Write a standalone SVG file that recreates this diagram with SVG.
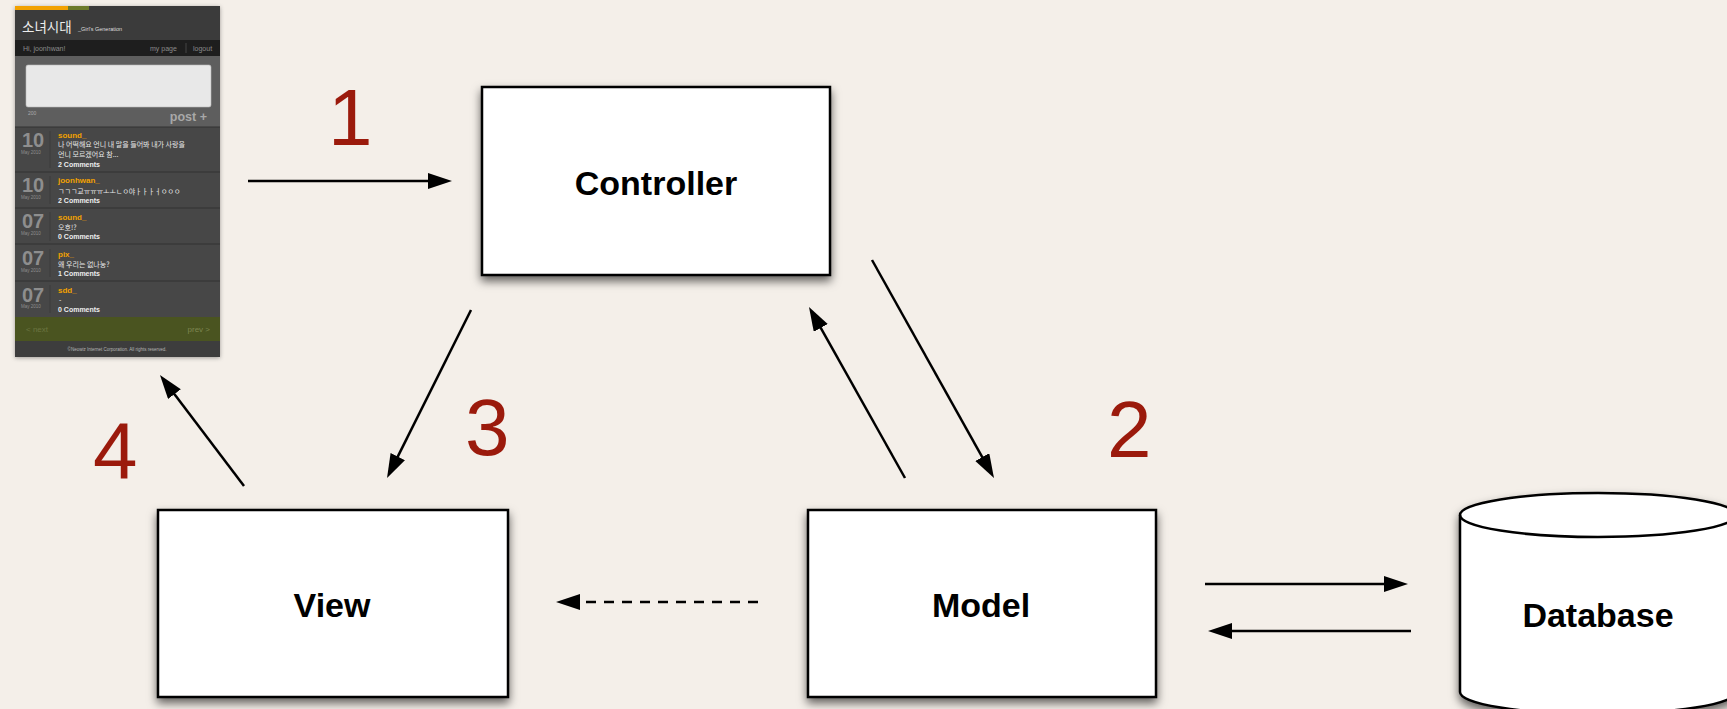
<svg xmlns="http://www.w3.org/2000/svg" width="1727" height="709" viewBox="0 0 1727 709">
  <defs>
    <filter id="shadow" x="-10%" y="-10%" width="120%" height="130%">
      <feDropShadow dx="0" dy="5" stdDeviation="5" flood-color="#000" flood-opacity="0.6"/>
    </filter>
    <filter id="pshadow" x="-10%" y="-10%" width="120%" height="120%">
      <feDropShadow dx="0" dy="1" stdDeviation="2" flood-color="#000" flood-opacity="0.35"/>
    </filter>
    <marker id="arrow" markerUnits="userSpaceOnUse" markerWidth="26" markerHeight="18" refX="14" refY="8" orient="auto">
      <path d="M0,0 L24,8 L0,16 z" fill="#000"/>
    </marker>
    <style>
      .box { fill: #fff; stroke: #000; stroke-width: 2.5; }
      .label { font-family: "Liberation Sans", Arial, sans-serif; font-weight: bold; font-size: 34px; fill: #000; text-anchor: middle; }
      .num { font-family: "Liberation Sans", Arial, sans-serif; font-size: 80px; fill: #9b1a0c; }
      .conn { stroke: #000; stroke-width: 2.5; fill: none; marker-end: url(#arrow); }
      .dash { stroke-dasharray: 10 8; }
      .ph { font-family: "Liberation Sans", "Noto Sans CJK KR", Arial, sans-serif; }
      .kr { font-family: "Noto Sans CJK KR", "Liberation Sans", sans-serif; }
      .user { font-size: 8px; font-weight: bold; fill: #f2a100; }
      .msg { font-size: 7px; fill: #e6e6e6; }
      .cm { font-size: 7px; font-weight: bold; fill: #eeeeee; }
      .day { font-size: 20px; font-weight: bold; fill: #8e8e8e; }
      .mon { font-size: 4.5px; fill: #8e8e8e; }
      .sep { stroke: #333; stroke-width: 1; }
    </style>
  </defs>

  <rect x="0" y="0" width="1727" height="709" fill="#f4efe9"/>

  <!-- Phone screenshot -->
  <g id="screenshot" class="ph">
    <rect x="15" y="6" width="205" height="351" fill="#474747" filter="url(#pshadow)"/>
    <rect x="15" y="6" width="53" height="4" fill="#f2a100"/>
    <rect x="68" y="6" width="21" height="4" fill="#6b7a2a"/>
    <rect x="89" y="6" width="131" height="4" fill="#3a3a3a"/>
    <rect x="15" y="10" width="205" height="30" fill="#3b3b3b"/>
    <text x="22" y="32" class="kr" font-size="13.5" fill="#ececec">소녀시대</text>
    <text x="78" y="31" font-size="5.5" fill="#dddddd">_Girl's Generation</text>
    <rect x="15" y="40" width="205" height="16" fill="#1e1e1e"/>
    <text x="23" y="51" font-size="7" fill="#8a8a8a">Hi, joonhwan!</text>
    <text x="150" y="51" font-size="7" fill="#8a8a8a">my page</text>
    <line x1="186" y1="43" x2="186" y2="53" stroke="#444" stroke-width="1"/>
    <text x="193" y="51" font-size="7" fill="#8a8a8a">logout</text>
    <rect x="15" y="56" width="205" height="71" fill="#5e5e5e"/>
    <rect x="26" y="65" width="185" height="42" rx="2" fill="#e8e8e8" stroke="#bbb" stroke-width="0.6"/>
    <text x="28" y="115" font-size="5" fill="#aaaaaa">200</text>
    <text x="207" y="121" font-size="12.5" font-weight="bold" fill="#a8a8a8" text-anchor="end">post +</text>
    <line x1="15" y1="127" x2="220" y2="127" class="sep"/>

    <!-- item 1 -->
    <text x="22" y="147" class="day">10</text>
    <text x="21" y="154" class="mon">May 2010</text>
    <line x1="50" y1="131" x2="50" y2="168" stroke="#3c3c3c"/>
    <text x="58" y="138" class="user">sound_</text>
    <text x="58" y="147" class="msg kr">나 어떡해요 언니 내 말을 들어봐 내가 사랑을</text>
    <text x="58" y="157" class="msg kr">언니 모르겠어요 참...</text>
    <text x="58" y="167" class="cm">2 Comments</text>
    <line x1="15" y1="172" x2="220" y2="172" class="sep"/>

    <!-- item 2 -->
    <text x="22" y="192" class="day">10</text>
    <text x="21" y="199" class="mon">May 2010</text>
    <line x1="50" y1="176" x2="50" y2="204" stroke="#3c3c3c"/>
    <text x="58" y="183" class="user">joonhwan_</text>
    <text x="58" y="194" class="msg kr">ㄱㄱㄱ교ㅠㅠㅠㅗㅗㄴㅇ야ㅏㅏㅏㅓㅇㅇㅇ</text>
    <text x="58" y="203" class="cm">2 Comments</text>
    <line x1="15" y1="208" x2="220" y2="208" class="sep"/>

    <!-- item 3 -->
    <text x="22" y="228" class="day">07</text>
    <text x="21" y="235" class="mon">May 2010</text>
    <line x1="50" y1="212" x2="50" y2="241" stroke="#3c3c3c"/>
    <text x="58" y="220" class="user">sound_</text>
    <text x="58" y="230" class="msg kr">오호!?</text>
    <text x="58" y="239" class="cm">0 Comments</text>
    <line x1="15" y1="244" x2="220" y2="244" class="sep"/>

    <!-- item 4 -->
    <text x="22" y="265" class="day">07</text>
    <text x="21" y="272" class="mon">May 2010</text>
    <line x1="50" y1="249" x2="50" y2="277" stroke="#3c3c3c"/>
    <text x="58" y="257" class="user">pix_</text>
    <text x="58" y="267" class="msg kr">왜 우리는 없나눙?</text>
    <text x="58" y="276" class="cm">1 Comments</text>
    <line x1="15" y1="281" x2="220" y2="281" class="sep"/>

    <!-- item 5 -->
    <text x="22" y="302" class="day">07</text>
    <text x="21" y="308" class="mon">May 2010</text>
    <line x1="50" y1="285" x2="50" y2="313" stroke="#3c3c3c"/>
    <text x="58" y="293" class="user">sdd_</text>
    <text x="59" y="302" class="msg">-</text>
    <text x="58" y="312" class="cm">0 Comments</text>

    <rect x="15" y="317" width="205" height="24" fill="#4a5420"/>
    <text x="26" y="332" font-size="8" fill="#6a7440">&lt; next</text>
    <text x="210" y="332" font-size="8" fill="#7d8650" text-anchor="end">prev &gt;</text>
    <rect x="15" y="341" width="205" height="16" fill="#3d3d3d"/>
    <text x="117" y="351" font-size="4.5" fill="#b5b5b5" text-anchor="middle">©Neowiz Internet Corporation. All rights reserved.</text>
  </g>

  <!-- Connectors -->
  <g id="connectors">
    <line x1="248" y1="181" x2="442" y2="181" class="conn"/>
    <line x1="471" y1="310" x2="391.5" y2="469.1" class="conn"/>
    <line x1="244" y1="486" x2="166" y2="383" class="conn"/>
    <line x1="905" y1="478" x2="813.9" y2="315.7" class="conn"/>
    <line x1="872" y1="260" x2="989.1" y2="469.3" class="conn"/>
    <line x1="758" y1="602" x2="566" y2="602" class="conn dash"/>
    <line x1="1205" y1="584" x2="1398" y2="584" class="conn"/>
    <line x1="1411" y1="631" x2="1218" y2="631" class="conn"/>
  </g>

  <!-- Step numbers -->
  <g id="numbers">
    <text x="328" y="145" class="num">1</text>
    <text x="1107" y="457" class="num">2</text>
    <text x="465" y="455" class="num">3</text>
    <text x="93" y="478" class="num">4</text>
  </g>

  <g id="controller">
    <rect x="482" y="87" width="348" height="188" class="box" filter="url(#shadow)"/>
    <text x="656" y="195" class="label">Controller</text>
  </g>

  <g id="view">
    <rect x="158" y="510" width="350" height="187" class="box" filter="url(#shadow)"/>
    <text x="332" y="617" class="label">View</text>
  </g>

  <g id="model">
    <rect x="808" y="510" width="348" height="187" class="box" filter="url(#shadow)"/>
    <text x="981" y="617" class="label">Model</text>
  </g>

  <g id="database">
    <path d="M1460,515 A138,22 0 0 1 1736,515 L1736,692 A138,22 0 0 1 1460,692 Z" class="box" filter="url(#shadow)"/>
    <path d="M1460,515 A138,22 0 0 0 1736,515" fill="none" stroke="#000" stroke-width="2.5"/>
    <text x="1598" y="627" class="label">Database</text>
  </g>
</svg>
